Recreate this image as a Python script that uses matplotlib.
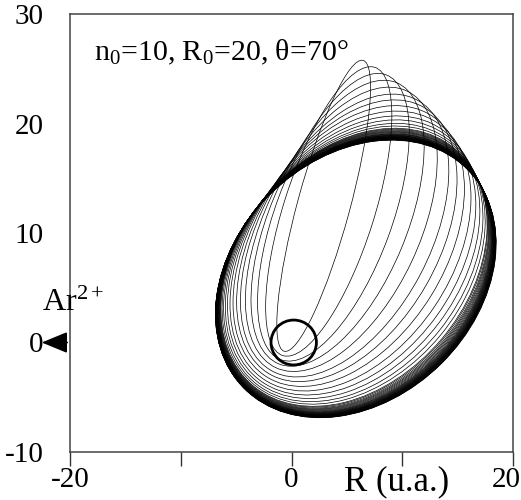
import numpy as np
import matplotlib
matplotlib.use("Agg")
import matplotlib.pyplot as plt
from matplotlib.patches import Ellipse, Circle
from matplotlib.transforms import ScaledTranslation

plt.rcParams['font.family'] = ['Liberation Serif', 'DejaVu Serif']
plt.rcParams['mathtext.fontset'] = 'custom'
plt.rcParams['mathtext.rm'] = 'Liberation Serif'
plt.rcParams['mathtext.it'] = 'Liberation Serif:italic'
plt.rcParams['axes.unicode_minus'] = False

# ---- data ----
# successive Kepler orbits (common focus near target):
# eccentricity, apoapsis direction (deg), semi-major axis (u.a.)
ecc = [0.985, 0.955, 0.925, 0.895, 0.865, 0.835, 0.81, 0.785, 0.762, 0.742,
       0.725, 0.71, 0.698, 0.688, 0.684, 0.68, 0.676, 0.673, 0.67, 0.667,
       0.664, 0.662, 0.66, 0.658, 0.656, 0.655, 0.653, 0.652, 0.651, 0.65,
       0.649, 0.648, 0.647, 0.646, 0.645, 0.644, 0.643, 0.642, 0.641, 0.640,
       0.6395, 0.639, 0.6385, 0.638]
phi_deg = [75, 72.5, 70, 67.5, 65, 62.5, 60.5, 58.5, 56.5, 54.8,
           53.3, 52, 51, 50.1, 49.8, 49.4, 49.1, 48.8, 48.5, 48.2,
           47.9, 47.7, 47.5, 47.3, 47.15, 47.0, 46.85, 46.7, 46.55, 46.4,
           46.3, 46.2, 46.1, 46.0, 45.9, 45.8, 45.7, 45.6, 45.5, 45.4,
           45.3, 45.2, 45.1, 45.0]
semi_a = [13.75, 13.8, 13.85, 13.9, 13.95, 14.0, 14.03, 14.06, 14.09, 14.1,
          14.12, 14.13, 14.14, 14.15, 14.15, 14.16, 14.16, 14.16, 14.17, 14.17,
          14.17, 14.18, 14.18, 14.18, 14.18, 14.19, 14.19, 14.19, 14.19, 14.2,
          14.2, 14.2, 14.2, 14.2, 14.2, 14.2, 14.2, 14.2, 14.2, 14.2,
          14.2, 14.2, 14.2, 14.2]
focus = (-0.6, -0.6)
target_center = (0.2, 0.0)
target_radius = 2.05

x_ticks = [-20, -10, 0, 10, 20]
x_ticklabels = ['-20', '', '0', '', '20']
y_ticks = [-10, 0, 10, 20, 30]
y_ticklabels = ['-10', '0', '10', '20', '30']
x_axis_label = 'R (u.a.)'
title_text = r'n$_{\mathrm{0}}$=10, R$_{\mathrm{0}}$=20, θ=70°'
ion_label = r'Ar$^{\mathrm{2+}}$'

fig = plt.figure(figsize=(5.21, 5.0), dpi=100)
ax = fig.add_axes([70/521, 48/500, 443/521, 438/500])
ax.set_xlim(-20, 20)
ax.set_ylim(-10, 30)

for e, p, a in zip(ecc, phi_deg, semi_a):
    pr = np.deg2rad(p)
    cx = focus[0] + a * e * np.cos(pr)
    cy = focus[1] + a * e * np.sin(pr)
    ell = Ellipse((cx, cy), 2 * a, 2 * a * np.sqrt(1 - e**2), angle=p,
                  fill=False, ec='black', lw=0.5)
    ax.add_patch(ell)

ax.add_patch(Circle(target_center, target_radius, fill=False, ec='black', lw=2.0, zorder=5))

ax.text(-17.8, 25.8, title_text, fontsize=21.5, va='baseline', ha='left')
ax.text(-19.7, 3.6, ion_label, fontsize=23, va='center', ha='center', clip_on=False)
ax.annotate('', xy=(-22.8, 0), xytext=(-20, 0), xycoords='data',
            arrowprops=dict(arrowstyle='-|>,head_length=0.8,head_width=0.33',
                            color='black', lw=1.2, mutation_scale=20),
            annotation_clip=False)
ax.text(9.5, -12.7, x_axis_label, fontsize=25, va='center', ha='center', clip_on=False)

ax.set_xticks(x_ticks)
ax.set_xticklabels(x_ticklabels)
ax.set_yticks(y_ticks)
ax.set_yticklabels(y_ticklabels)
ax.tick_params(axis='x', direction='out', length=10, width=1, colors='#333333',
               labelsize=21, labelcolor='black', pad=1)
ax.tick_params(axis='y', direction='in', length=0, labelsize=21, labelcolor='black', pad=19)
for s in ax.spines.values():
    s.set_color('#444444')
    s.set_linewidth(1.1)

fig.canvas.draw()
last = ax.get_xticklabels()[-1]
last.set_transform(last.get_transform() + ScaledTranslation(-7/100, 0, fig.dpi_scale_trans))

fig.savefig('out.png', dpi=100)
